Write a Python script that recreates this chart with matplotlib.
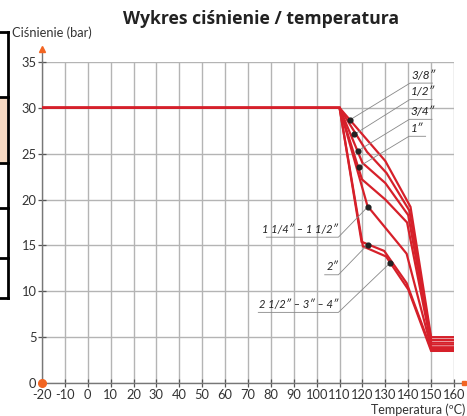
import matplotlib
matplotlib.use("Agg")
import matplotlib.pyplot as plt
from matplotlib.lines import Line2D
from matplotlib.patches import Rectangle

plt.rcParams['font.family'] = ['Lato', 'DejaVu Sans']

# pressure / temperature curves (temperature in C, pressure in bar)
t_38 = [-20, 110, 130, 141, 150, 160]
p_38 = [30, 30, 24.2, 19.2, 5.0, 5.0]
t_12 = [-20, 110, 122, 130.5, 140.5, 150, 160]
p_12 = [30, 30, 25.2, 22.9, 18.8, 4.7, 4.7]
t_34 = [-20, 110, 120, 130, 140, 150, 160]
p_34 = [30, 30, 24.0, 21.8, 18.3, 4.4, 4.4]
t_1 = [-20, 110, 119.8, 130, 139.5, 150, 160]
p_1 = [30, 30, 22.2, 20.0, 17.5, 4.2, 4.2]
t_114 = [-20, 110, 122.2, 139.3, 150, 160]
p_114 = [30, 30, 19.3, 14.1, 3.9, 3.9]
t_2 = [-20, 110, 119.6, 129.5, 139.3, 150, 160]
p_2 = [30, 30, 15.4, 14.4, 10.9, 3.7, 3.7]
t_212 = [-20, 110, 120.2, 130.3, 140, 150, 160]
p_212 = [30, 30, 14.9, 13.8, 10.2, 3.5, 3.5]

curves = [(t_38, p_38), (t_12, p_12), (t_34, p_34), (t_1, p_1),
          (t_114, p_114), (t_2, p_2), (t_212, p_212)]

# label dots on the curves
dot_t = [114.6, 116.4, 117.9, 118.5, 122.3, 122.3, 132.1]
dot_p = [28.7, 27.1, 25.3, 23.6, 19.2, 15.1, 13.1]

labels_right = ['3/8″', '1/2″', '3/4″', '1″']
lab_right_y = [32.7, 30.9, 28.75, 26.9]
lab_right_end = [150.6, 150.4, 150.4, 147.6]

labels_left = ['1 1/4″ – 1 1/2″', '2″', '2 1/2″ – 3″ – 4″']
lab_left_y = [15.9, 11.8, 7.7]
lab_left_start = [78.0, 103.5, 74.5]

xticks = list(range(-20, 161, 10))
yticks = list(range(0, 36, 5))

red = '#d6202a'
grey = '#b4b4b4'
orange = '#f26522'

fig = plt.figure(figsize=(4.67, 4.16), dpi=100)
ax = fig.add_axes([42 / 467, 33 / 416, 412 / 467, 321 / 416])
ax.set_xlim(-20, 160)
ax.set_ylim(0, 35)

ax.set_xticks(xticks)
ax.set_yticks(yticks)
ax.set_xticklabels([str(v) for v in xticks])
ax.grid(True, color=grey, linewidth=1.0)
ax.set_axisbelow(True)
ax.tick_params(direction='inout', length=6, width=0.9, color='#555555',
               labelsize=9.3, labelcolor='#333333', pad=1)
for s in ['top', 'right']:
    ax.spines[s].set_visible(False)
for s in ['left', 'bottom']:
    ax.spines[s].set_color('#777777')
    ax.spines[s].set_linewidth(1.0)

for t, p in curves:
    ax.plot(t, p, color=red, linewidth=1.6, solid_joinstyle='miter', zorder=3)

ax.scatter(dot_t, dot_p, s=12, color='#222222', zorder=5)

# labels on the right with leader lines
for i, lab in enumerate(labels_right):
    x0 = 140.8 - 0.15 * i
    ax.plot([dot_t[i], x0, lab_right_end[i]],
            [dot_p[i], lab_right_y[i], lab_right_y[i]],
            color='#888888', linewidth=0.6, zorder=4)
    ax.text(x0 + 0.6, lab_right_y[i] + 0.25, lab, ha='left', va='bottom',
            fontsize=8.5, style='italic', color='#222222')

# labels on the left with leader lines
for j, lab in enumerate(labels_left):
    i = j + 4
    x1 = 109.5
    ax.plot([lab_left_start[j], x1, dot_t[i]],
            [lab_left_y[j], lab_left_y[j], dot_p[i]],
            color='#888888', linewidth=0.6, zorder=4)
    ax.text(x1, lab_left_y[j] + 0.25, lab, ha='right', va='bottom',
            fontsize=8.0, style='italic', color='#222222')

# axis ends
ax.plot([160, 164.5], [0, 0], color='#777777', linewidth=1.0, clip_on=False)
ax.plot([164.5], [0], marker='s', markersize=3.5, color=orange, clip_on=False)
ax.plot([-20, -20], [35, 36.0], color='#777777', linewidth=1.0, clip_on=False)
ax.plot([-20], [36.4], marker='^', markersize=5, color=orange, clip_on=False)
ax.plot([-20], [0], marker='o', markersize=5.5, color=orange, clip_on=False, zorder=6)

fig.text(0.559, 0.955, 'Wykres ciśnienie / temperatura', ha='center', va='center',
         fontsize=12.7, fontweight='bold', color='#222222', family='Open Sans')
fig.text(12 / 467, 1 - 33 / 416, 'Ciśnienie (bar)', ha='left', va='center',
         fontsize=9.3, color='#333333')
fig.text(465 / 467, 6 / 416, 'Temperatura (ºC)', ha='right', va='center',
         fontsize=9, color='#333333')

# cropped frame remains at the left edge
fig.add_artist(Rectangle((0, 1 - 163 / 416), 7 / 467, 66 / 416,
                         transform=fig.transFigure, facecolor='#f6d9c2',
                         edgecolor='none'))
fig.add_artist(Line2D([8 / 467, 8 / 467], [1 - 32 / 416, 1 - 298 / 416],
                      transform=fig.transFigure, color='black', linewidth=2))
for yy in [32, 97, 163, 208, 258, 298]:
    fig.add_artist(Line2D([0, 8 / 467], [1 - yy / 416, 1 - yy / 416],
                          transform=fig.transFigure, color='black', linewidth=2))

fig.savefig('out.png', dpi=100)
